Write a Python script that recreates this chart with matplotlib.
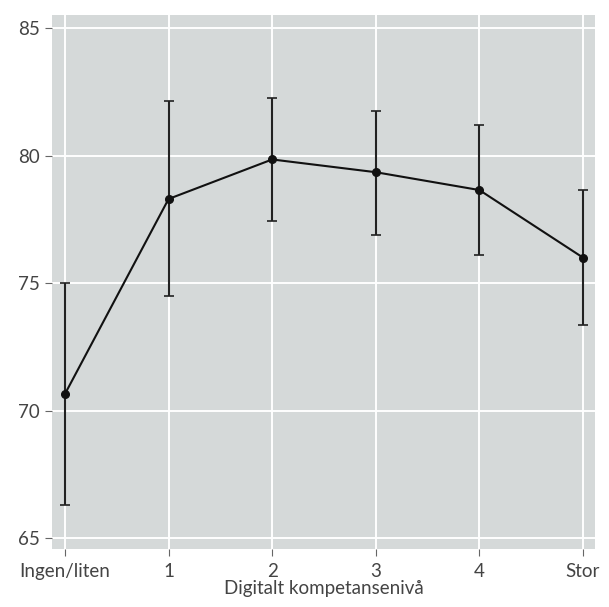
import matplotlib
matplotlib.use("Agg")
import matplotlib.pyplot as plt

plt.rcParams["font.family"] = ["Lato", "DejaVu Sans"]

# data
categories = ["Ingen/liten", "1", "2", "3", "4", "Stor"]
means = [70.65, 78.3, 79.85, 79.35, 78.65, 76.0]
upper = [75.0, 82.15, 82.25, 81.75, 81.2, 78.65]
lower = [66.3, 74.5, 77.45, 76.9, 76.1, 73.35]
yticks = [65, 70, 75, 80, 85]

x = list(range(len(categories)))
err_lo = [m - l for m, l in zip(means, lower)]
err_hi = [u - m for u, m in zip(upper, means)]

fig = plt.figure(figsize=(6.09, 6.07), dpi=100)
ax = fig.add_axes([0.0854, 0.0956, 0.8916, 0.8794])
ax.set_facecolor("#d5d9d9")

ax.errorbar(x, means, yerr=[err_lo, err_hi], fmt="-o", color="#111111",
            ecolor="#222222", elinewidth=1.5, capsize=3.5, capthick=1.2,
            markersize=5.5, linewidth=1.5, zorder=3)

ax.set_xlim(-0.125, 5.116)
ax.set_ylim(64.57, 85.51)
ax.set_xticks(x)
ax.set_xticklabels(categories)
ax.set_yticks(yticks)
ax.grid(True, color="white", linewidth=1.4)
ax.set_axisbelow(True)
for s in ax.spines.values():
    s.set_visible(False)
ax.tick_params(axis="both", direction="out", length=5, width=0.8,
               color="#666666", labelcolor="#444444", labelsize=13.5)
ax.tick_params(axis="x", pad=5)
ax.set_xlabel("Digitalt kompetansenivå", fontsize=13.5, color="#444444", labelpad=0)

fig.savefig("out.png", dpi=100)
